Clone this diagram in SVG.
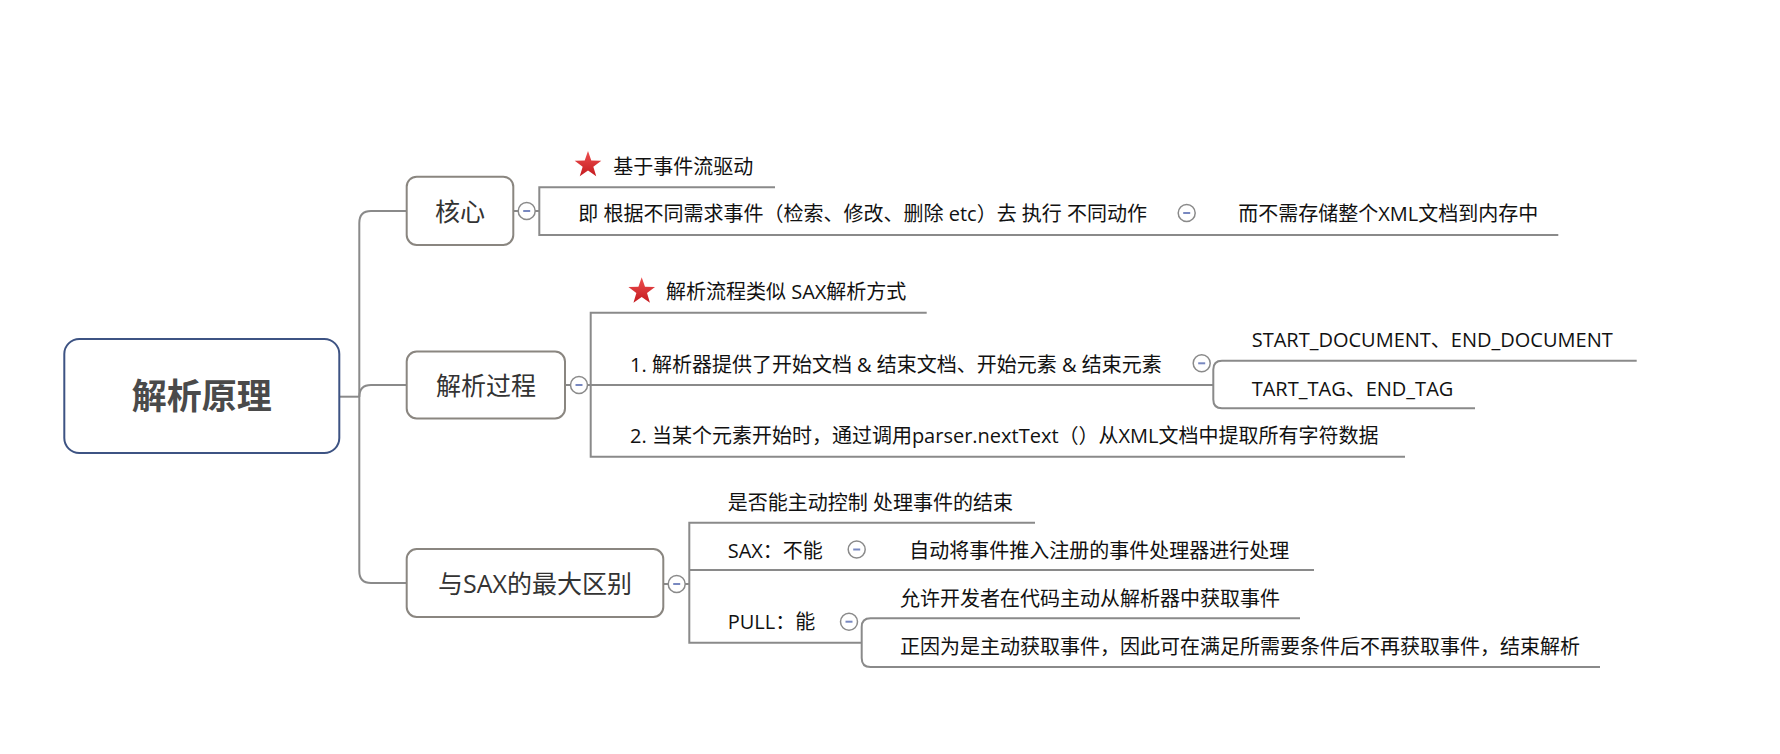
<svg xmlns="http://www.w3.org/2000/svg" width="1780" height="754" viewBox="0 0 1780 754">
<style>
text{font-family:"Open Sans","Noto Sans CJK SC",sans-serif;}
.t{font-size:20px;fill:#111;}
.n{font-size:25px;fill:#333;text-anchor:middle;}
.r{font-size:35px;font-weight:bold;fill:#4a4a4a;text-anchor:middle;}
.box{fill:#fff;stroke:#8a8680;stroke-width:2;}
.ln{fill:none;stroke:#8a8a8a;stroke-width:2;}
.cb circle{fill:#fff;stroke:#8a8a8a;stroke-width:1.5;}
.cb line{stroke:#7888c0;stroke-width:2;}
</style>
<defs>
<linearGradient id="sg" x1="0" y1="0" x2="0" y2="1">
<stop offset="0" stop-color="#ee5050"/>
<stop offset="1" stop-color="#c41a1f"/>
</linearGradient>
<path id="star" d="M0,-14 L3.29,-4.53 L13.31,-4.33 L5.33,1.73 L8.23,11.33 L0,5.6 L-8.23,11.33 L-5.33,1.73 L-13.31,-4.33 L-3.29,-4.53 Z" fill="url(#sg)"/>
<g id="cbtn" class="cb"><circle r="8.5"/><line x1="-3.5" y1="0" x2="3.5" y2="0"/></g>
</defs>
<rect width="1780" height="754" fill="#fff"/>

<g id="connectors">
<path class="ln" d="M339,396.7 H359.3"/>
<path class="ln" d="M407,211 H371 Q359.3,211 359.3,223 V571 Q359.3,583 371,583 H407"/>
<path class="ln" d="M359.3,397 Q359.3,385 371,385 H407"/>
<path class="ln" d="M513.3,211 H539.3"/>
<path class="ln" d="M775,187.3 H539.3 V235 H1558.3"/>
<path class="ln" d="M565,385 H1213.3"/>
<path class="ln" d="M926.7,312.7 H590.7 V456.7 H1405"/>
<path class="ln" d="M1636.7,360.7 H1222 Q1213.3,360.7 1213.3,369.5 V399.5 Q1213.3,408.3 1222,408.3 H1475"/>
<path class="ln" d="M663.3,584 H689.3"/>
<path class="ln" d="M1035,522.7 H689.3 V642.7 H861.7"/>
<path class="ln" d="M689.3,570 H1314"/>
<path class="ln" d="M1300,618.3 H870.5 Q861.7,618.3 861.7,627 V658 Q861.7,667 870.5,667 H1600"/>
</g>

<g id="root">
<rect class="box" x="64.3" y="339" width="275" height="114" rx="15" style="stroke:#3d5383"/>
<text class="r" x="201.8" y="409">解析原理</text>
</g>

<g id="n-core">
<rect class="box" x="406.7" y="176.7" width="106.6" height="68.3" rx="10"/>
<text class="n" x="460" y="221">核心</text>
<use href="#cbtn" x="526.7" y="211"/>
</g>
<g id="n-core-1">
<use href="#star" x="588" y="165"/>
<text class="t" x="613.3" y="173.6">基于事件流驱动</text>
</g>
<g id="n-core-2">
<text class="t" x="578.3" y="221">即 根据不同需求事件（检索、修改、删除 etc）去 执行 不同动作</text>
<use href="#cbtn" x="1186.7" y="213"/>
</g>
<g id="n-core-2-1">
<text class="t" x="1238.3" y="221">而不需存储整个XML文档到内存中</text>
</g>

<g id="n-process">
<rect class="box" x="406.7" y="351.5" width="158.3" height="67" rx="10"/>
<text class="n" x="486" y="394.5">解析过程</text>
<use href="#cbtn" x="579" y="385"/>
</g>
<g id="n-process-1">
<use href="#star" x="641.7" y="291.3"/>
<text class="t" x="666" y="298.6">解析流程类似 SAX解析方式</text>
</g>
<g id="n-process-2">
<text class="t" x="630" y="371.6">1. 解析器提供了开始文档 &amp; 结束文档、开始元素 &amp; 结束元素</text>
<use href="#cbtn" x="1201.7" y="363.3"/>
</g>
<g id="n-process-2-1">
<text class="t" x="1251.7" y="346.6">START_DOCUMENT、END_DOCUMENT</text>
</g>
<g id="n-process-2-2">
<text class="t" x="1251.7" y="396">TART_TAG、END_TAG</text>
</g>
<g id="n-process-3">
<text class="t" x="630" y="443.3">2. 当某个元素开始时，通过调用parser.nextText（）从XML文档中提取所有字符数据</text>
</g>

<g id="n-diff">
<rect class="box" x="406.7" y="549" width="256.6" height="68" rx="10"/>
<text class="n" x="535" y="592.5">与SAX的最大区别</text>
<use href="#cbtn" x="676.7" y="584"/>
</g>
<g id="n-diff-1">
<text class="t" x="727.7" y="510.3">是否能主动控制 处理事件的结束</text>
</g>
<g id="n-diff-2">
<text class="t" x="727.7" y="557.6">SAX：不能</text>
<use href="#cbtn" x="856.7" y="549.5"/>
</g>
<g id="n-diff-2-1">
<text class="t" x="909.3" y="557.6">自动将事件推入注册的事件处理器进行处理</text>
</g>
<g id="n-diff-3">
<text class="t" x="727.7" y="629.3">PULL：能</text>
<use href="#cbtn" x="849" y="621.7"/>
</g>
<g id="n-diff-3-1">
<text class="t" x="900" y="606">允许开发者在代码主动从解析器中获取事件</text>
</g>
<g id="n-diff-3-2">
<text class="t" x="900" y="653.6">正因为是主动获取事件，因此可在满足所需要条件后不再获取事件，结束解析</text>
</g>
</svg>
